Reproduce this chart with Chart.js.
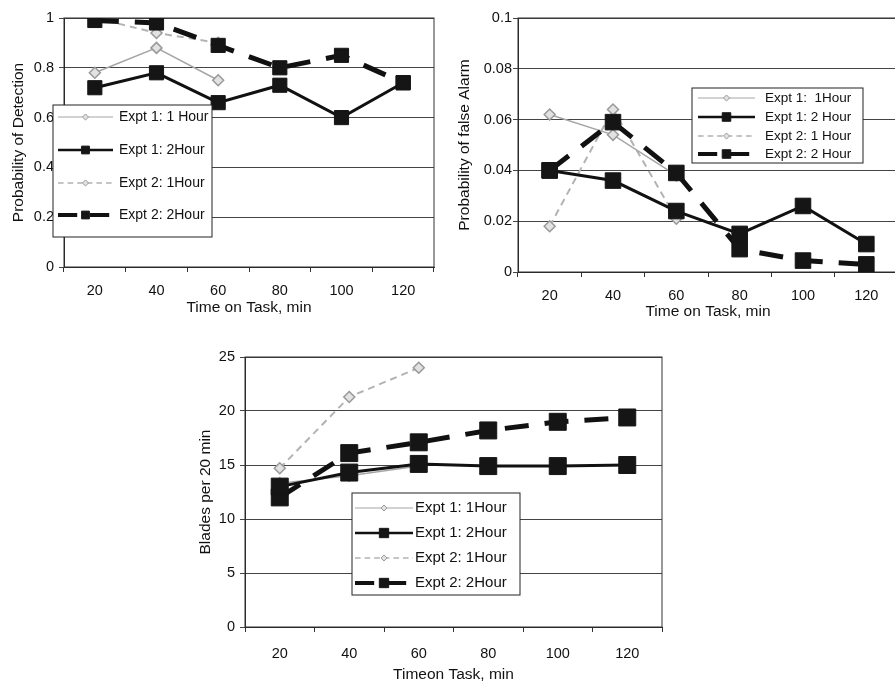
<!DOCTYPE html>
<html>
<head>
<meta charset="utf-8">
<script src="https://cdn.jsdelivr.net/npm/chart.js@4.4.1/dist/chart.umd.min.js"></script>
<style>
  html, body { margin: 0; padding: 0; background: #fff; overflow: hidden; width: 895px; height: 684px; }
  canvas { position: absolute; }
</style>
</head>
<body>
<canvas id="detChart" width="445" height="325" style="left:0px;top:0px"></canvas>
<canvas id="faChart" width="460" height="325" style="left:450px;top:0px"></canvas>
<canvas id="bladeChart" width="490" height="344" style="left:190px;top:340px"></canvas>
<script>
const minutes = ['20', '40', '60', '80', '100', '120'];

// probability of detection
const detNames = ['Expt 1: 1 Hour', 'Expt 1: 2Hour', 'Expt 2: 1Hour', 'Expt 2: 2Hour'];
const detE1h1 = [0.78, 0.88, 0.75, null, null, null];
const detE1h2 = [0.72, 0.78, 0.66, 0.73, 0.60, 0.74];
const detE2h1 = [1.0, 0.94, 0.90, null, null, null];
const detE2h2 = [0.99, 0.98, 0.89, 0.80, 0.85, 0.74];

// probability of false alarm
const faNames = ['Expt 1:  1Hour', 'Expt 1: 2 Hour', 'Expt 2: 1 Hour', 'Expt 2: 2 Hour'];
const faE1h1 = [0.062, 0.054, 0.038, null, null, null];
const faE1h2 = [0.040, 0.036, 0.024, 0.015, 0.026, 0.011];
const faE2h1 = [0.018, 0.064, 0.021, null, null, null];
const faE2h2 = [0.040, 0.059, 0.039, 0.009, 0.0045, 0.003];

// blades per 20 min
const bladeNames = ['Expt 1: 1Hour', 'Expt 1: 2Hour', 'Expt 2: 1Hour', 'Expt 2: 2Hour'];
const bladeE1h1 = [13.3, 14.0, 14.9, null, null, null];
const bladeE1h2 = [13.0, 14.3, 15.1, 14.9, 14.9, 15.0];
const bladeE2h1 = [14.7, 21.3, 24.0, null, null, null];
const bladeE2h2 = [12.0, 16.1, 17.1, 18.2, 19.0, 19.4];

const FONT = 'Liberation Sans, Arial, sans-serif';

function seriesSet(names, data, sq) {
    return [
        { label: names[0], data: data[0], borderColor: '#a6a6a6', borderWidth: 1.5,
          pointStyle: 'rectRot', pointRadius: 5.5, pointBackgroundColor: '#e2e2e2',
          pointBorderColor: '#999', pointBorderWidth: 1.5, order: 2 },
        { label: names[1], data: data[1], borderColor: '#111', borderWidth: 3,
          pointStyle: 'rect', pointRadius: sq, pointBackgroundColor: '#151515',
          pointBorderColor: '#151515', pointBorderWidth: 1, order: 1 },
        { label: names[2], data: data[2], borderColor: '#b3b3b3', borderWidth: 2, borderDash: [7, 5],
          pointStyle: 'rectRot', pointRadius: 5.5, pointBackgroundColor: '#e2e2e2',
          pointBorderColor: '#999', pointBorderWidth: 1.5, order: 3 },
        { label: names[3], data: data[3], borderColor: '#111', borderWidth: 5, borderDash: [24, 16],
          pointStyle: 'rect', pointRadius: sq, pointBackgroundColor: '#151515',
          pointBorderColor: '#151515', pointBorderWidth: 1, order: 1 }
    ];
}

// box round the plot area
const frame = {
    id: 'frame',
    beforeDatasetsDraw(chart) {
        const { ctx, chartArea: a } = chart;
        ctx.save();
        ctx.strokeStyle = '#333';
        ctx.lineWidth = 1;
        ctx.strokeRect(a.left, a.top, a.right - a.left, a.bottom - a.top);
        ctx.restore();
    }
};

function drawMarker(ctx, ds, x, y, k) {
    const r = ds.pointRadius * k;
    ctx.setLineDash([]);
    ctx.fillStyle = ds.pointBackgroundColor;
    ctx.strokeStyle = ds.pointBorderColor;
    ctx.lineWidth = 1;
    ctx.beginPath();
    if (ds.pointStyle === 'rect') {
        const s = r * Math.SQRT1_2;
        ctx.rect(x - s, y - s, 2 * s, 2 * s);
    } else {
        ctx.moveTo(x, y - r); ctx.lineTo(x + r, y); ctx.lineTo(x, y + r); ctx.lineTo(x - r, y);
        ctx.closePath();
    }
    ctx.fill();
    ctx.stroke();
}

// legend in a white box sitting over the plot
const boxLegend = {
    id: 'boxLegend',
    afterDatasetsDraw(chart, args, o) {
        const ctx = chart.ctx;
        ctx.save();
        ctx.fillStyle = '#fff';
        ctx.fillRect(o.x, o.y, o.w, o.h);
        ctx.strokeStyle = '#222';
        ctx.lineWidth = 1;
        ctx.strokeRect(o.x, o.y, o.w, o.h);
        chart.data.datasets.forEach((ds, i) => {
            const cy = o.rows[i];
            ctx.strokeStyle = ds.borderColor;
            ctx.lineWidth = ds.borderWidth * 0.8;
            ctx.setLineDash(ds.borderDash ? ds.borderDash.map(v => v * 0.8) : []);
            ctx.beginPath();
            ctx.moveTo(o.s0, cy);
            ctx.lineTo(o.s1, cy);
            ctx.stroke();
            drawMarker(ctx, ds, (o.s0 + o.s1) / 2, cy, 0.55);
            ctx.fillStyle = '#111';
            ctx.font = o.font + 'px ' + FONT;
            ctx.textBaseline = 'middle';
            ctx.fillText(ds.label, o.tx, cy);
        });
        ctx.restore();
    }
};

function makeChart(id, c) {
    return new Chart(document.getElementById(id), {
        type: 'line',
        data: { labels: minutes, datasets: c.datasets },
        options: {
            responsive: false,
            animation: false,
            layout: { padding: c.pad },
            plugins: {
                legend: { display: false },
                tooltip: { enabled: false },
                boxLegend: c.legend
            },
            scales: {
                x: {
                    offset: true,
                    grid: { display: true, drawOnChartArea: false, color: '#333', tickLength: 5, offset: true },
                    border: { color: '#222' },
                    ticks: { color: '#111', font: { family: FONT, size: 14.5 }, padding: c.xPad, maxRotation: 0 },
                    title: { display: true, text: c.xTitle, color: '#111',
                             font: { family: FONT, size: 15.5 }, padding: { top: 0, bottom: c.xTitlePad } },
                    afterFit: s => { s.height = c.xHeight; }
                },
                y: {
                    min: c.yMin, max: c.yMax,
                    grid: { color: '#444', lineWidth: 1, tickLength: 5 },
                    border: { color: '#222' },
                    ticks: { stepSize: c.yStep, color: '#111', font: { family: FONT, size: 14.5 }, padding: c.yPad,
                             callback: v => String(parseFloat(v.toFixed(4))) },
                    title: { display: true, text: c.yTitle, color: '#111',
                             font: { family: FONT, size: 15.5 }, padding: { top: c.yTitlePad, bottom: 0 } },
                    afterFit: s => { s.width = c.yWidth; }
                }
            }
        },
        plugins: [frame, boxLegend]
    });
}

makeChart('detChart', {
    datasets: seriesSet(detNames, [detE1h1, detE1h2, detE2h1, detE2h2], 10),
    pad: { left: 0, top: 18, right: 9, bottom: 0 },
    yWidth: 64, xHeight: 58, xPad: 10, yPad: 5, xTitlePad: 8, yTitlePad: 9,
    yMin: 0, yMax: 1, yStep: 0.2,
    xTitle: 'Time on Task, min', yTitle: 'Probability of Detection',
    legend: { x: 53, y: 105, w: 159, h: 132, rows: [117, 150, 183, 215], s0: 58, s1: 113, tx: 119, font: 14 }
});

makeChart('faChart', {
    datasets: seriesSet(faNames, [faE1h1, faE1h2, faE2h1, faE2h2], 11),
    pad: { left: 0, top: 18, right: 6, bottom: 0 },
    yWidth: 68, xHeight: 53, xPad: 10, yPad: 1, xTitlePad: 4, yTitlePad: 5,
    yMin: 0, yMax: 0.1, yStep: 0.02,
    xTitle: 'Time on Task, min', yTitle: 'Probability of false Alarm',
    legend: { x: 242, y: 88, w: 171, h: 75, rows: [98, 117, 136, 154], s0: 248, s1: 305, tx: 315, font: 13.5 }
});

makeChart('bladeChart', {
    datasets: seriesSet(bladeNames, [bladeE1h1, bladeE1h2, bladeE2h1, bladeE2h2], 12),
    pad: { left: 0, top: 17, right: 18, bottom: 0 },
    yWidth: 55, xHeight: 57, xPad: 13, yPad: 5, xTitlePad: 0, yTitlePad: 6,
    yMin: 0, yMax: 25, yStep: 5,
    xTitle: 'Timeon Task, min', yTitle: 'Blades per 20 min',
    legend: { x: 162, y: 153, w: 168, h: 102, rows: [168, 193, 218, 243], s0: 165, s1: 223, tx: 225, font: 15 }
});
</script>
</body>
</html>
